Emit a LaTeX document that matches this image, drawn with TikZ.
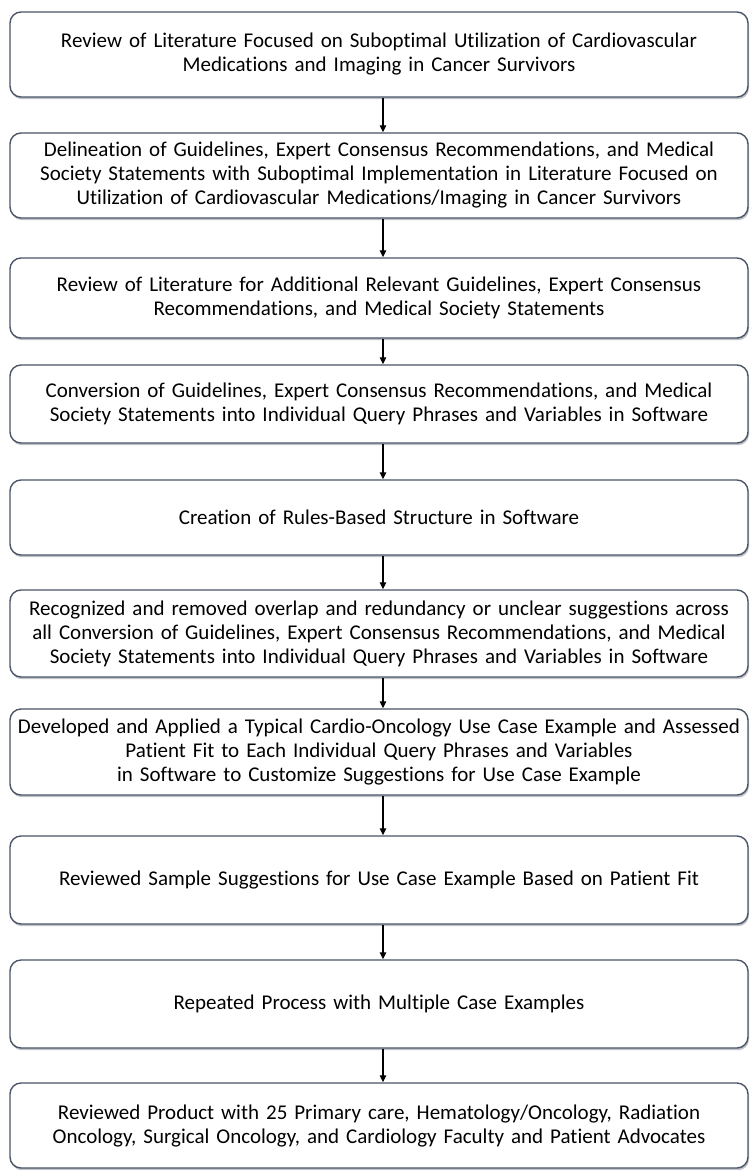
\documentclass[tikz,border=0pt]{standalone}
\usepackage{fontspec}
\setmainfont[Ligatures=NoCommon]{Carlito}
\usepackage{xcolor}
\usetikzlibrary{positioning,arrows.meta,shadows}
\definecolor{boxline}{HTML}{4A5568}
\definecolor{boxshade}{HTML}{8A8F99}

\begin{document}
\begin{tikzpicture}[x=1pt, y=-1pt,
  every node/.style={font=\fontsize{21}{24}\selectfont},
  stepbox/.style={rectangle, draw=boxline, line width=1.4pt, fill=white,
                  rounded corners=11pt, minimum width=738pt, text width=732pt,
                  align=center, inner xsep=3pt,
                  drop shadow={shadow xshift=1pt, shadow yshift=-2.2pt,
                               fill=boxshade, opacity=0.55}},
  flow/.style={-{Triangle[length=7pt, width=6.5pt]}, line width=1.3pt, draw=black}
]
\useasboundingbox (0,0) rectangle (753,1170);
% Ten steps, top to bottom
\node[stepbox, minimum height=85pt] (s1) at (379,54.5)
  {Review of Literature Focused on Suboptimal Utilization of Cardiovascular\\
   Medications and Imaging in Cancer Survivors};
\node[stepbox, minimum height=85pt] (s2) at (379,175.5)
  {Delineation of Guidelines, Expert Consensus Recommendations, and Medical\\
   Society Statements with Suboptimal Implementation in Literature Focused on\\
   Utilization of Cardiovascular Medications/Imaging in Cancer Survivors};
\node[stepbox, minimum height=80pt] (s3) at (379,298)
  {Review of Literature for Additional Relevant Guidelines, Expert Consensus\\
   Recommendations, and Medical Society Statements};
\node[stepbox, minimum height=78pt] (s4) at (379,404)
  {Conversion of Guidelines, Expert Consensus Recommendations, and Medical\\
   Society Statements into Individual Query Phrases and Variables in Software};
\node[stepbox, minimum height=75pt] (s5) at (379,517.5)
  {Creation of Rules-Based Structure in Software};
\node[stepbox, minimum height=87pt] (s6) at (379,633.5)
  {Recognized and removed overlap and redundancy or unclear suggestions across\\
   all Conversion of Guidelines, Expert Consensus Recommendations, and Medical\\
   Society Statements into Individual Query Phrases and Variables in Software};
\node[stepbox, minimum height=86pt] (s7) at (379,752)
  {Developed and Applied a Typical Cardio-Oncology Use Case Example and Assessed\\
   Patient Fit to Each Individual Query Phrases and Variables\\
   in Software to Customize Suggestions for Use Case Example};
\node[stepbox, minimum height=88pt] (s8) at (379,880)
  {Reviewed Sample Suggestions for Use Case Example Based on Patient Fit};
\node[stepbox, minimum height=88pt] (s9) at (379,1004)
  {Repeated Process with Multiple Case Examples};
\node[stepbox, minimum height=85pt] (s10) at (379,1125.5)
  {Reviewed Product with 25 Primary care, Hematology/Oncology, Radiation\\
   Oncology, Surgical Oncology, and Cardiology Faculty and Patient Advocates};
% Connecting arrows
\foreach \a/\b in {s1/s2,s2/s3,s3/s4,s4/s5,s5/s6,s6/s7,s7/s8,s8/s9,s9/s10}
  \draw[flow] ([xshift=4pt]\a.south) -- ([xshift=4pt]\b.north);
\end{tikzpicture}
\end{document}
